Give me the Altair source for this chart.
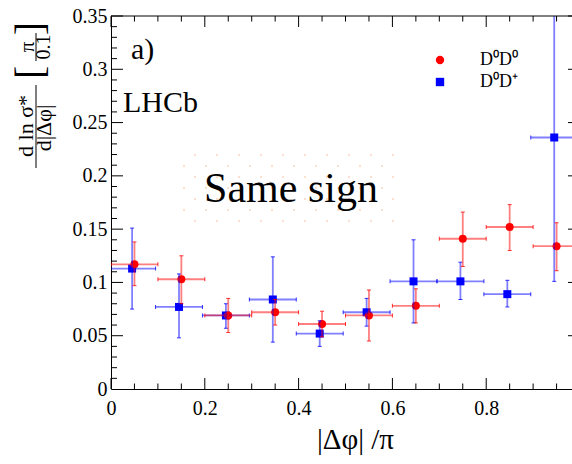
import altair as alt
import numpy as np
import pandas as pd

FONT = "Liberation Serif"
W, H = 461, 373

# ---------------- data ----------------
bins = [0.05, 0.15, 0.25, 0.35, 0.45, 0.55, 0.65, 0.75, 0.85, 0.95]
half_bin = 0.05
blue_shift = -0.005

red_val = [0.117, 0.103, 0.069, 0.072, 0.061, 0.069, 0.078, 0.141, 0.152, 0.134]
red_lo = [0.097, 0.080, 0.053, 0.060, 0.049, 0.045, 0.062, 0.115, 0.130, 0.111]
red_hi = [0.138, 0.125, 0.085, 0.084, 0.073, 0.093, 0.094, 0.166, 0.173, 0.156]

blue_val = [0.113, 0.077, 0.069, 0.084, 0.052, 0.072, 0.101, 0.101, 0.089, 0.236]
blue_lo = [0.075, 0.048, 0.057, 0.044, 0.040, 0.059, 0.062, 0.084, 0.077, 0.101]
blue_hi = [0.151, 0.108, 0.080, 0.124, 0.064, 0.085, 0.140, 0.119, 0.102, 0.371]

series_names = ["D⁰D⁰", "D⁰D⁺"]
series_colors = ["#ff0000", "#0000ff"]
series_shapes = ["circle", "square"]

x_major = [0, 0.2, 0.4, 0.6, 0.8]
x_minor = [0.05, 0.1, 0.15, 0.25, 0.3, 0.35, 0.45, 0.5, 0.55, 0.65, 0.7, 0.75, 0.85, 0.9, 0.95]
y_major = [0.05, 0.1, 0.15, 0.2, 0.25, 0.3, 0.35]
y_minor = [i / 100 for i in range(1, 35) if i % 5]
x_labels = [0, 0.2, 0.4, 0.6, 0.8]
y_labels = [0, 0.05, 0.1, 0.15, 0.2, 0.25, 0.3, 0.35]

xs = alt.Scale(domain=[0, 0.9829], nice=False, zero=False)
ys = alt.Scale(domain=[0, 0.35], nice=False, zero=False)

x_axis = alt.Axis(
    values=x_labels, format="~g", title="|Δφ| /π", titleX=244, titleY=59,
    titleAlign="center", titleBaseline="alphabetic", titleFont=FONT,
    titleFontSize=29, titleFontWeight="normal", titleColor="black",
    labelFont=FONT, labelFontSize=20, labelColor="black",
    labelPadding=9, labelFlush=False, labelOverlap=False,
)
y_axis = alt.Axis(
    values=y_labels, format="~g", title="", labelPadding=4,
    labelFont=FONT, labelFontSize=20, labelColor="black",
    labelFlush=False, labelOverlap=False,
)


def X(field):
    return alt.X(field, scale=xs, axis=x_axis)


def Y(field):
    return alt.Y(field, scale=ys, axis=y_axis)


def make_df(xc, val, lo, hi, name):
    return pd.DataFrame({
        "x": xc, "y": val, "lo": lo, "hi": hi,
        "xl": [v - half_bin for v in xc], "xh": [v + half_bin for v in xc],
        "series": name,
    })


red_df = make_df(bins, red_val, red_lo, red_hi, series_names[0])
blue_df = make_df([b + blue_shift for b in bins], blue_val, blue_lo, blue_hi, series_names[1])


def err_layers(df, color):
    base = alt.Chart(df)
    vb = base.mark_rule(color=color, strokeWidth=1.8, opacity=0.5, clip=True).encode(
        x=X("x:Q"), y=Y("lo:Q"), y2="hi:Q")
    hb = base.mark_rule(color=color, strokeWidth=1.8, opacity=0.5, clip=True).encode(
        x=X("xl:Q"), x2="xh:Q", y=Y("y:Q"))
    vc = base.transform_fold(["lo", "hi"]).mark_tick(
        orient="horizontal", size=4, thickness=1, color=color, opacity=0.8, clip=True).encode(
        x=X("x:Q"), y=Y("value:Q"))
    hc = base.transform_fold(["xl", "xh"]).mark_tick(
        orient="vertical", size=4, thickness=1, color=color, opacity=0.8, clip=True).encode(
        x=X("value:Q"), y=Y("y:Q"))
    return [vb, hb, vc, hc]


legend = alt.Legend(
    title=None, orient="none", legendX=320, legendY=35, padding=0,
    labelFont=FONT, labelFontSize=18, labelColor="black", labelOffset=31,
    symbolSize=70, symbolStrokeWidth=0, rowPadding=4,
)

pts_df = pd.concat([blue_df, red_df], ignore_index=True)
points = alt.Chart(pts_df).mark_point(filled=True, opacity=1, size=64, clip=True).encode(
    x=X("x:Q"),
    y=Y("y:Q"),
    color=alt.Color("series:N", scale=alt.Scale(domain=series_names, range=series_colors), legend=legend),
    shape=alt.Shape("series:N", scale=alt.Scale(domain=series_names, range=series_shapes), legend=legend),
)

# ---------------- ticks (inward, ROOT style) ----------------
def xticks(vals, length, top):
    df = pd.DataFrame({"v": vals})
    if top:
        yv, y2v = 0, length
    else:
        yv, y2v = H, H - length
    return alt.Chart(df).mark_rule(color="black", strokeWidth=1).encode(
        x=X("v:Q"), y=alt.value(yv), y2=alt.value(y2v))


def yticks(vals, x0, x1):
    df = pd.DataFrame({"v": vals})
    return alt.Chart(df).mark_rule(color="black", strokeWidth=1).encode(
        y=Y("v:Q"), x=alt.value(x0), x2=alt.value(x1))


tick_layers = [
    xticks(x_major, 11, False), xticks(x_minor, 5.5, False),
    xticks(x_major, 11, True), xticks(x_minor, 5.5, True),
    yticks(y_major, 0, 12), yticks(y_minor, 0, 6),
    yticks(y_major, W - 4, W),
]

frame_top = alt.Chart(pd.DataFrame({"a": [0]})).mark_rule(color="black", strokeWidth=1).encode(
    x=alt.value(0), x2=alt.value(W), y=alt.value(0))

# ---------------- "Same sign" dotted box ----------------
dot_rows = []
for r in range(7):
    y = 0.2196 - r * 0.01032
    x0 = 0.1791 if r % 2 == 0 else 0.1557
    for c in range(10):
        dot_rows.append({"x": x0 + c * 0.0469, "y": y})
dots = alt.Chart(pd.DataFrame(dot_rows)).mark_square(size=4, color="#fbdfcf", opacity=1).encode(
    x=X("x:Q"), y=Y("y:Q"))


def annot(text, x, y, size, angle=0, align="left", baseline="alphabetic"):
    return alt.Chart(pd.DataFrame({"t": [text]})).mark_text(
        font=FONT, fontSize=size, color="black", align=align, baseline=baseline, angle=angle
    ).encode(x=alt.value(x), y=alt.value(y), text="t:N")


texts = [
    annot("Same sign", 180, 186, 42, align="center"),
    annot("a)", 20, 43, 30),
    annot("LHCb", 12, 96, 30),
    # y-axis title built as ROOT-like fractions
    annot("d ln σ*", -85, 110, 22, angle=270, align="center", baseline="middle"),
    annot("d|Δφ|", -67, 112, 22, angle=270, align="center", baseline="middle"),
    annot("π", -83, 31, 21, angle=270, align="center", baseline="middle"),
    annot("0.1", -67, 31, 20, angle=270, align="center", baseline="middle"),
    annot("[", -80, 63, 40, angle=270, align="left", baseline="middle"),
    annot("]", -80, 6, 40, angle=270, align="right", baseline="middle"),
]

frac_bars = [
    alt.Chart(pd.DataFrame({"a": [0]})).mark_rule(color="black", strokeWidth=1).encode(
        x=alt.value(-75), y=alt.value(69), y2=alt.value(152)),
    alt.Chart(pd.DataFrame({"a": [0]})).mark_rule(color="black", strokeWidth=1).encode(
        x=alt.value(-75), y=alt.value(17), y2=alt.value(45)),
]

layers = ([points] + [dots] + texts[:1] + err_layers(blue_df, "#0000ff") + err_layers(red_df, "#ff0000")
          + tick_layers + [frame_top] + texts[1:] + frac_bars)

chart = alt.layer(*layers).properties(
    width=W, height=H,
    autosize=alt.AutoSizeParams(type="none"),
    padding={"left": 111, "top": 16, "right": 0, "bottom": 75},
    background="white",
).configure_view(stroke=None).configure_axis(
    labelFont=FONT, labelFontSize=20, labelColor="black",
    ticks=False, tickSize=0, grid=False,
    domainColor="black", domainWidth=1,
).configure_legend(labelFont=FONT)

chart.save("out.html", embed_options={"renderer": "svg", "actions": False})
